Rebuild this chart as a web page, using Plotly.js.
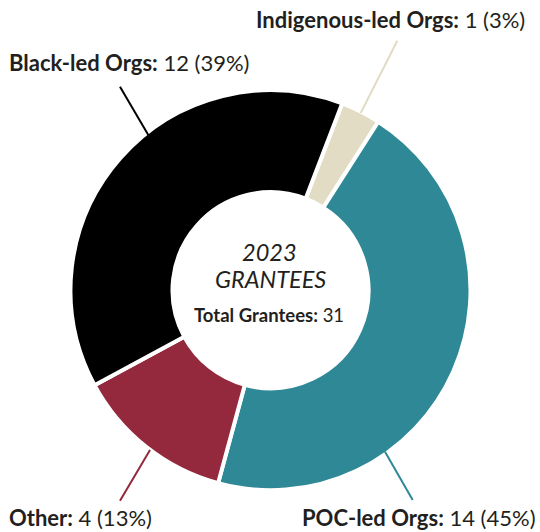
<!DOCTYPE html>
<html>
<head>
<meta charset="utf-8">
<script src="https://cdn.plot.ly/plotly-3.0.1.min.js"></script>
<style>html,body{margin:0;padding:0;background:#fff;}#chart{width:540px;height:532px;}</style>
</head>
<body>
<div id="chart"></div>
<script>
// ---- data ----
var labels = ["Indigenous-led Orgs", "POC-led Orgs", "Other", "Black-led Orgs"];
var values = [1, 14, 4, 12];
var colors = ["#e2dcc5", "#2e8896", "#94283c", "#000000"];
var centerYear = "2023";
var centerTitle = "GRANTEES";
var totalLabel = "Total Grantees";

// ---- layout helpers (pixel -> paper) ----
var W = 540, H = 532;
function px(x) { return x / W; }
function py(y) { return 1 - y / H; }

var total = values.reduce(function (a, b) { return a + b; }, 0);
var textColor = "#231f20";
var fam = "Lato, 'Open Sans', sans-serif";

// label placement (layout only): anchor side, x, y-middle, leader line endpoints
var labelPos = [
  {xa: "right", x: 527, y: 19.5, l: [397.3, 40.7, 360.7, 113]},
  {xa: "right", x: 538, y: 517.5, l: [385, 451.7, 412.7, 500]},
  {xa: "left", x: 7, y: 517, l: [150, 450, 120, 500.7]},
  {xa: "left", x: 6.5, y: 62.5, l: [120, 86.7, 148.3, 135]}
];

var annotations = [];
var shapes = [];
labels.forEach(function (lab, i) {
  var pct = Math.round(values[i] / total * 100);
  var p = labelPos[i];
  annotations.push({
    xref: "paper", yref: "paper", x: px(p.x), y: py(p.y),
    xanchor: p.xa, yanchor: "middle", showarrow: false,
    text: "<b>" + lab + ":</b> " + values[i] + " (" + pct + "%)",
    font: {family: fam, size: 22, color: textColor}
  });
  shapes.push({
    type: "line", xref: "paper", yref: "paper",
    x0: px(p.l[0]), y0: py(p.l[1]), x1: px(p.l[2]), y1: py(p.l[3]),
    line: {color: colors[i], width: 2}
  });
});

annotations.push({
  xref: "paper", yref: "paper", x: px(269), y: py(252), xanchor: "center", yanchor: "middle",
  showarrow: false, text: "<i>" + centerYear + "</i>",
  font: {family: fam, size: 23.5, color: textColor}
});
annotations.push({
  xref: "paper", yref: "paper", x: px(270), y: py(278.5), xanchor: "center", yanchor: "middle",
  showarrow: false, text: "<i>" + centerTitle + "</i>",
  font: {family: fam, size: 23.5, color: textColor}
});
annotations.push({
  xref: "paper", yref: "paper", x: px(268.5), y: py(315), xanchor: "center", yanchor: "middle",
  showarrow: false, text: "<b>" + totalLabel + ":</b> " + total,
  font: {family: fam, size: 18.5, color: textColor}
});

var trace = {
  type: "pie",
  labels: labels,
  values: values,
  sort: false,
  direction: "clockwise",
  rotation: 21,
  hole: 0.49,
  textinfo: "none",
  hoverinfo: "label+value+percent",
  marker: {colors: colors, line: {color: "#ffffff", width: 4}},
  domain: {x: [px(70.5), px(470.5)], y: [py(490.2), py(90.2)]},
  showlegend: false
};

var layout = {
  width: W, height: H,
  margin: {l: 0, r: 0, t: 0, b: 0},
  paper_bgcolor: "#ffffff",
  plot_bgcolor: "#ffffff",
  showlegend: false,
  annotations: annotations,
  shapes: shapes
};

Plotly.newPlot("chart", [trace], layout, {displayModeBar: false, staticPlot: true});
</script>
</body>
</html>
